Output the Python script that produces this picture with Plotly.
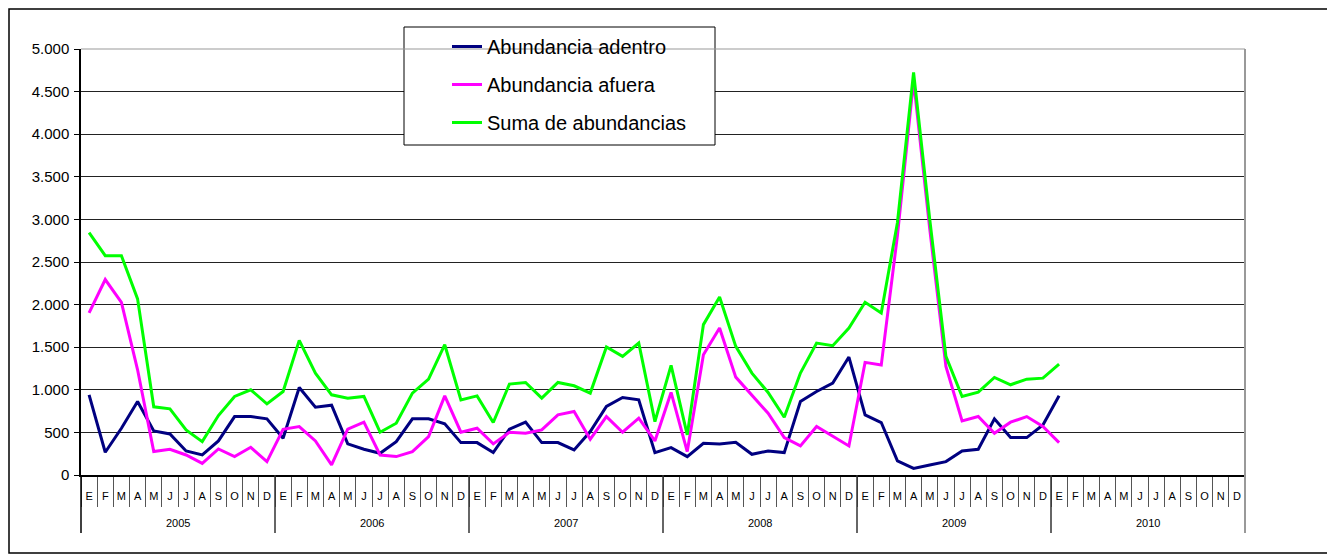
import plotly.graph_objects as go

years = ["2005", "2006", "2007", "2008", "2009", "2010"]
months = ["E", "F", "M", "A", "M", "J", "J", "A", "S", "O", "N", "D"]

adentro = [
    941, 267, 549, 863, 518, 482, 282, 235, 400, 686, 686, 659,
    431, 1027, 796, 820, 365, 302, 255, 392, 659, 659, 600, 380,
    380, 263, 537, 620, 380, 380, 294, 510, 804, 910, 882, 263,
    322, 216, 373, 365, 384, 243, 282, 263, 863, 980, 1078, 1384,
    706, 616, 165, 78, 118, 157, 282, 302, 659, 439, 439, 588,
    929, None, None, None, None, None, None, None, None, None, None, None,
]
afuera = [
    1902, 2294, 2027, 1235, 275, 302, 235, 137, 306, 216, 325, 157,
    537, 569, 400, 118, 537, 620, 235, 216, 275, 451, 929, 502,
    549, 365, 502, 490, 529, 706, 745, 420, 686, 502, 667, 400,
    969, 275, 1412, 1725, 1149, 941, 725, 439, 341, 569, 451, 341,
    1322, 1290, 2809, 4628, 2887, 1275, 635, 686, 490, 620, 686, 569,
    380, None, None, None, None, None, None, None, None, None, None, None,
]
suma = [
    2844, 2574, 2574, 2067, 800, 776, 529, 392, 698, 922, 1000, 835,
    980, 1580, 1196, 941, 902, 922, 502, 608, 961, 1125, 1529, 882,
    929, 616, 1067, 1086, 902, 1086, 1047, 961, 1502, 1392, 1549, 627,
    1286, 471, 1765, 2090, 1510, 1196, 969, 678, 1196, 1549, 1518, 1725,
    2027, 1902, 2961, 4726, 3001, 1392, 922, 973, 1145, 1059, 1125, 1137,
    1302, None, None, None, None, None, None, None, None, None, None, None,
]

series_names = ["Abundancia adentro", "Abundancia afuera", "Suma de abundancias"]
series_colors = ["#000080", "#FF00FF", "#00FF00"]

n_cat = len(years) * len(months)
x_idx = list(range(n_cat))
tick_text = [m for _ in years for m in months]

fig = go.Figure()
for name, vals, col in zip(series_names, [adentro, afuera, suma], series_colors):
    fig.add_trace(go.Scatter(
        x=x_idx, y=vals, name=name, mode="lines",
        line=dict(color=col, width=3), legendgroup=name,
    ))

OFF = 8  # browser body margin
W, H = 1335 - OFF, 558 - OFF
L, T = 81 - OFF, 49 - OFF
R = W - (1245 - OFF)
B = H - (475 - OFF)
pw, ph = W - L - R, H - T - B


def px_x(p):
    return (p - OFF - L) / pw


def px_y(p):
    return (H - B - (p - OFF)) / ph


shapes = [
    dict(type="rect", xref="paper", yref="paper",
         x0=px_x(9), x1=px_x(1330), y0=px_y(553), y1=px_y(9),
         line=dict(color="black", width=1.5), layer="below"),
    dict(type="rect", xref="paper", yref="paper",
         x0=px_x(404), x1=px_x(715), y0=px_y(145), y1=px_y(27),
         line=dict(color="black", width=1), fillcolor="white", layer="above"),
    dict(type="line", xref="paper", yref="paper",
         x0=1, x1=1, y0=px_y(533), y1=1, line=dict(color="#999999", width=2)),
    dict(type="line", xref="paper", yref="paper",
         x0=0, x1=1, y0=1, y1=1, line=dict(color="#999999", width=1)),
]
annotations = []
for k, yr in enumerate(years):
    start = k * len(months) - 0.5
    if k > 0:
        shapes.append(dict(type="line", xref="x", yref="paper",
                           x0=start, x1=start, y0=px_y(533), y1=0,
                           line=dict(color="#333333", width=1.5)))
    annotations.append(dict(x=start + len(months) / 2, y=px_y(523), xref="x", yref="paper",
                            text=yr, showarrow=False, yanchor="middle",
                            font=dict(size=11, color="black")))
shapes.append(dict(type="line", xref="paper", yref="paper",
                   x0=0, x1=0, y0=px_y(533), y1=0, line=dict(color="black", width=1.5)))

fig.update_layout(
    width=W, height=H,
    margin=dict(l=L, r=R, t=T, b=B),
    paper_bgcolor="white", plot_bgcolor="white",
    font=dict(family="Liberation Sans, Arial, sans-serif", color="black"),
    separators=",.",
    showlegend=True,
    legend=dict(
        x=px_x(447), y=px_y(27), xanchor="left", yanchor="top",
        bgcolor="rgba(0,0,0,0)", borderwidth=0,
        font=dict(size=20, color="black"), tracegroupgap=9,
    ),
    shapes=shapes,
    annotations=annotations,
)

fig.update_yaxes(
    range=[0, 5000], tick0=0, dtick=500, tickformat=",d",
    showgrid=True, gridcolor="#222222", gridwidth=1,
    showline=True, linecolor="black", linewidth=1.5,
    ticks="outside", ticklen=5, tickcolor="black",
    tickfont=dict(size=15, color="black"), zeroline=False,
    ticklabelstandoff=2,
)
fig.update_xaxes(
    range=[-0.5, n_cat - 0.5],
    tickmode="array", tickvals=x_idx, ticktext=tick_text,
    ticks="", ticklabelstandoff=10,
    minor=dict(tickmode="linear", tick0=0.5, dtick=1, ticks="outside",
               ticklen=30, tickcolor="#555555", tickwidth=1),
    showline=True, linecolor="black", linewidth=1.5,
    tickfont=dict(size=11, color="black"), showgrid=False, zeroline=False,
)

fig.write_html("out.html")
